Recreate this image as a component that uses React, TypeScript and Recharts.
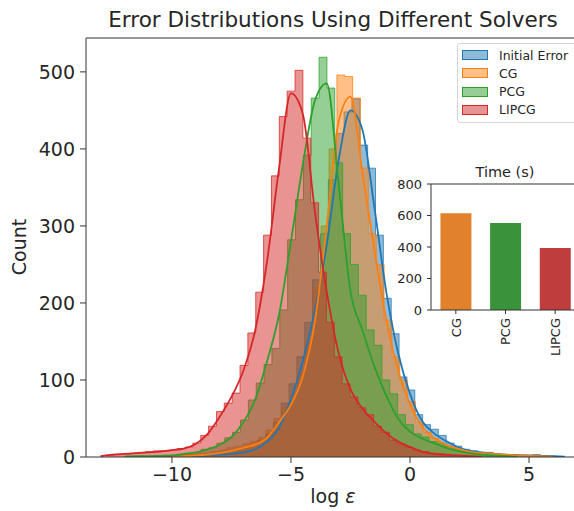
import React from 'react';
import {
  ComposedChart, Area, Line, XAxis, YAxis, ReferenceLine,
  BarChart, Bar, Cell,
} from 'recharts';

const seriesNames = ['Initial Error', 'CG', 'PCG', 'LIPCG'];
const seriesKeys = ['initial', 'cg', 'pcg', 'lipcg'];
const colors = ['#1f77b4', '#ff7f0e', '#2ca02c', '#d62728'];

// histogram bins (log eps), counts per bin from the first edge
const binWidth = 0.33;
const initialStart = -10.36;
const initialCounts = [1, 1, 1, 2, 2, 3, 4, 5, 7, 9, 12, 15, 22, 30, 45, 70, 95, 130, 175, 230, 290, 360, 420, 448, 465, 405, 375, 288, 206, 160, 104, 87, 55, 42, 36, 28, 18, 14, 10, 8, 6, 6, 4, 3, 3, 2, 2, 3, 2, 1];
const cgStart = -10.99;
const cgCounts = [1, 1, 1, 2, 2, 3, 4, 5, 7, 9, 12, 14, 17, 20, 25, 35, 50, 65, 80, 110, 150, 220, 300, 400, 496, 494, 466, 375, 290, 250, 178, 130, 100, 72, 45, 32, 24, 16, 12, 9, 7, 6, 5, 5, 4, 3, 3, 2, 2, 1];
const pcgStart = -11.74;
const pcgCounts = [1, 1, 1, 1, 2, 2, 3, 4, 6, 10, 12, 18, 25, 32, 48, 74, 96, 120, 141, 191, 282, 334, 392, 466, 519, 479, 382, 290, 250, 210, 165, 145, 100, 82, 55, 42, 30, 26, 20, 18, 14, 11, 8, 6, 4, 3, 2, 2, 1];
const lipcgStart = -12.75;
const lipcgCounts = [2, 3, 4, 5, 6, 7, 8, 8, 9, 11, 13, 18, 28, 40, 59, 70, 83, 119, 161, 214, 288, 365, 442, 475, 502, 414, 330, 240, 175, 130, 95, 78, 64, 55, 40, 32, 22, 17, 13, 9, 7, 5, 4, 3, 2, 2, 1];

// kde curves, sampled every 0.5
const kdeX = [-13, -12.5, -12, -11.5, -11, -10.5, -10, -9.5, -9, -8.5, -8, -7.5, -7, -6.5, -6, -5.5, -5, -4.5, -4, -3.5, -3, -2.5, -2, -1.5, -1, -0.5, 0, 0.5, 1, 1.5, 2, 2.5, 3, 3.5, 4, 4.5, 5, 5.5, 6, 6.5];
const initialKde = [null, null, null, null, null, null, 0.5, 1, 1.5, 2, 3, 4, 6, 10, 20, 38, 75, 125, 190, 275, 385, 450, 425, 325, 215, 135, 82, 47, 31, 21, 13, 8, 6, 4, 3, 2.5, 2, 1.5, 1, 0.5];
const cgKde = [null, null, null, null, null, null, 0.5, 1, 2, 3, 5, 8, 12, 16, 25, 45, 68, 105, 175, 300, 435, 468, 370, 270, 178, 112, 68, 40, 25, 16, 11, 7, 5, 4, 3, 2, 1.5, 1, 0.5, null];
const pcgKde = [null, null, 0.5, 1, 1, 1.5, 2, 4, 6, 10, 16, 26, 45, 75, 125, 185, 280, 380, 462, 485, 355, 215, 165, 118, 80, 50, 33, 24, 18, 12, 8, 5, 3, 2, 1, 0.5, null, null, null, null];
const lipcgKde = [1, 3, 4, 5, 6, 7, 9, 11, 17, 30, 52, 78, 112, 165, 255, 375, 472, 445, 320, 215, 135, 88, 63, 46, 31, 20, 13, 7, 4, 3, 2, 1, 0.5, null, null, null, null, null, null, null];

const histStarts = [initialStart, cgStart, pcgStart, lipcgStart];
const histCounts = [initialCounts, cgCounts, pcgCounts, lipcgCounts];
const kdes = [initialKde, cgKde, pcgKde, lipcgKde];

const xTicks = [-10, -5, 0, 5];
const yTicks = [0, 100, 200, 300, 400, 500];

// inset: solve time
const solvers = ['CG', 'PCG', 'LIPCG'];
const solveTimes = [615, 553, 393];
const timeTicks = [0, 200, 400, 600, 800];
const barColors = ['#e1812c', '#3a923a', '#c03d3e'];

const FONT = 'DejaVu Sans';
const INK = '#262626';

const rkey = (x: number) => Math.round(x * 1000) / 1000;

function buildRows() {
  const rows = new Map<number, any>();
  const row = (x: number) => {
    const k = rkey(x);
    if (!rows.has(k)) rows.set(k, { x: k });
    return rows.get(k);
  };
  seriesKeys.forEach((s, i) => {
    const start = histStarts[i];
    const counts = histCounts[i];
    counts.forEach((c, j) => { row(start + j * binWidth)[s] = c; });
    row(start + counts.length * binWidth)[s] = 0;
    kdeX.forEach((x, j) => {
      const v = kdes[i][j];
      if (v != null) row(x)[s + 'Kde'] = v;
    });
  });
  return [...rows.values()].sort((a, b) => a.x - b.x);
}

const rows = buildRows();
const timeRows = solvers.map((name, i) => ({ name, time: solveTimes[i] }));

const minus = (v: number) => String(v).replace('-', '\u2212');

const RotatedTick = (props: any) => {
  const { x, y, payload } = props;
  return (
    <text x={x} y={y} transform={`rotate(-90, ${x}, ${y})`} textAnchor="end" dy="0.36em"
      fontSize={13} fontFamily={FONT} fill={INK}>
      {payload.value}
    </text>
  );
};

const LegendBox = () => (
  <div style={{
    position: 'absolute', left: 457, top: 43, width: 130, height: 78,
    border: '1px solid #d6d6d6', borderRadius: 3, background: 'rgba(255,255,255,0.85)',
    fontFamily: FONT, fontSize: 12.5, color: INK,
  }}>
    {seriesNames.map((name, i) => (
      <div key={name} style={{ position: 'absolute', left: 4, top: 2 + i * 18.3, height: 18, display: 'flex', alignItems: 'center' }}>
        <span style={{
          display: 'inline-block', width: 24, height: 8, marginRight: 11,
          background: colors[i] + '80', border: `1px solid ${colors[i]}`,
        }} />
        <span>{name}</span>
      </div>
    ))}
  </div>
);

export default function App() {
  return (
    <div style={{ position: 'absolute', left: 0, top: 0, width: 574, height: 511, overflow: 'hidden', background: '#fff' }}>
      <ComposedChart width={600} height={511} data={rows} margin={{ top: 38, right: 20, bottom: 0, left: 0 }}>
        <XAxis type="number" dataKey="x" domain={[-13.61, 7.14]} allowDataOverflow ticks={xTicks}
          tickFormatter={minus} height={54} tickSize={6} tickMargin={5}
          tick={{ fill: INK, fontSize: 19, fontFamily: FONT }}
          stroke="#333" />
        <YAxis type="number" domain={[0, 544]} allowDataOverflow ticks={yTicks} width={86}
          tickSize={6} tickMargin={5} tick={{ fill: INK, fontSize: 19, fontFamily: FONT }}
          stroke="#333" />
        {seriesKeys.map((s, i) => (
          <Area key={s} dataKey={s} type="stepAfter" connectNulls isAnimationActive={false}
            fill={colors[i]} fillOpacity={0.5} stroke={colors[i]} strokeOpacity={0.75} strokeWidth={1}
            dot={false} activeDot={false} />
        ))}
        {seriesKeys.map((s, i) => (
          <Line key={s + 'Kde'} dataKey={s + 'Kde'} type="monotone" connectNulls isAnimationActive={false}
            stroke={colors[i]} strokeWidth={1.8} dot={false} activeDot={false} />
        ))}
        <ReferenceLine y={544} stroke="#333" />
      </ComposedChart>

      <svg width={574} height={511} style={{ position: 'absolute', left: 0, top: 0, pointerEvents: 'none' }}
        fontFamily={FONT} fill={INK}>
        <text x={333} y={27} textAnchor="middle" fontSize={21.5}>Error Distributions Using Different Solvers</text>
        <text x={333} y={503} textAnchor="middle" fontSize={19}>log <tspan fontStyle="italic">ε</tspan></text>
        <text x={26} y={247} textAnchor="middle" fontSize={19} transform="rotate(-90, 26, 247)">Count</text>
        <text x={505} y={177} textAnchor="middle" fontSize={14.5}>Time (s)</text>
      </svg>

      <LegendBox />

      <div style={{ position: 'absolute', left: 380, top: 150 }}>
        <BarChart width={200} height={220} data={timeRows} margin={{ top: 34, right: 0, bottom: 10, left: 0 }}
          barCategoryGap="19%">
          <XAxis dataKey="name" height={50} tickSize={4} tickMargin={4} tick={<RotatedTick />} stroke="#333" />
          <YAxis type="number" domain={[0, 800]} ticks={timeTicks} width={51} tickSize={4} tickMargin={5}
            tick={{ fill: INK, fontSize: 13, fontFamily: FONT }} stroke="#333" />
          <Bar dataKey="time" isAnimationActive={false}>
            {timeRows.map((r, i) => <Cell key={r.name} fill={barColors[i]} />)}
          </Bar>
          <ReferenceLine y={800} stroke="#333" />
        </BarChart>
      </div>
    </div>
  );
}
